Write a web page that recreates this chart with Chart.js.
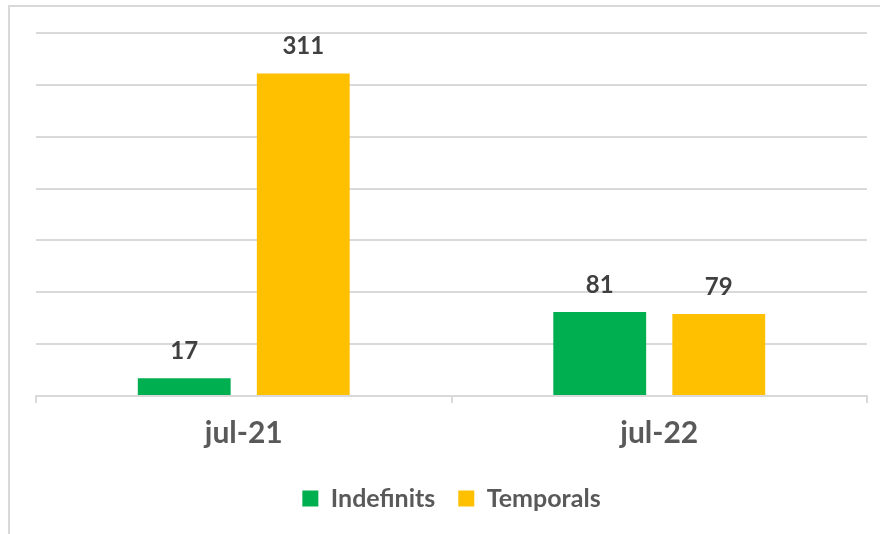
<!DOCTYPE html>
<html>
<head>
<meta charset="utf-8">
<script src="https://cdn.jsdelivr.net/npm/chart.js@4"></script>
<style>
html,body{margin:0;padding:0;background:#fff;}
#wrap{position:relative;width:880px;height:534px;}
</style>
</head>
<body>
<div id="wrap"><canvas id="c" width="880" height="534"></canvas></div>
<script>
const categories = ["jul-21", "jul-22"];
const seriesNames = ["Indefinits", "Temporals"];
const indefinits = [17, 81];
const temporals = [311, 79];
const yMax = 350;
const yStep = 50;

const frame = {
  id: 'frame',
  beforeDraw(chart) {
    const ctx = chart.ctx;
    ctx.save();
    ctx.fillStyle = '#fff';
    ctx.fillRect(0, 0, chart.width, chart.height);
    ctx.strokeStyle = '#d9d9d9';
    ctx.lineWidth = 2;
    ctx.beginPath();
    ctx.moveTo(9, chart.height);
    ctx.lineTo(9, 6);
    ctx.lineTo(chart.width, 6);
    ctx.stroke();
    ctx.restore();
  }
};

const labels = {
  id: 'labels',
  afterDatasetsDraw(chart) {
    const ctx = chart.ctx;
    ctx.save();
    ctx.font = 'bold 24px Lato, "Open Sans", sans-serif';
    ctx.fillStyle = '#404040';
    ctx.textAlign = 'center';
    ctx.textBaseline = 'middle';
    chart.data.datasets.forEach((ds, i) => {
      chart.getDatasetMeta(i).data.forEach((bar, j) => {
        ctx.fillText(String(ds.data[j]), bar.x, bar.y - 27);
      });
    });
    ctx.restore();
  }
};

new Chart(document.getElementById('c'), {
  type: 'bar',
  data: {
    labels: categories,
    datasets: [
      { label: seriesNames[0], data: indefinits, backgroundColor: '#00b050' },
      { label: seriesNames[1], data: temporals, backgroundColor: '#ffc000' }
    ]
  },
  options: {
    responsive: false,
    animation: false,
    events: [],
    layout: { padding: { top: 33, left: 36, right: 13, bottom: 13 } },
    datasets: { bar: { barPercentage: 0.78, categoryPercentage: 0.573 } },
    scales: {
      x: {
        grid: { offset: true, drawOnChartArea: false, drawTicks: true, tickLength: 7, color: '#d9d9d9', lineWidth: 2 },
        border: { color: '#d9d9d9', width: 2 },
        ticks: { color: '#595959', font: { family: 'Lato, "Open Sans", sans-serif', size: 30, weight: 'bold' }, padding: 12 }
      },
      y: {
        min: 0, max: yMax,
        ticks: { stepSize: yStep, display: false },
        grid: { color: '#d9d9d9', lineWidth: 2, drawTicks: false },
        border: { display: false }
      }
    },
    plugins: {
      legend: {
        position: 'bottom',
        labels: {
          color: '#595959',
          font: { family: 'Lato, "Open Sans", sans-serif', size: 25, weight: 'bold' },
          boxWidth: 16, boxHeight: 16, padding: 23
        }
      },
      tooltip: { enabled: false }
    }
  },
  plugins: [frame, labels]
});
</script>
</body>
</html>
